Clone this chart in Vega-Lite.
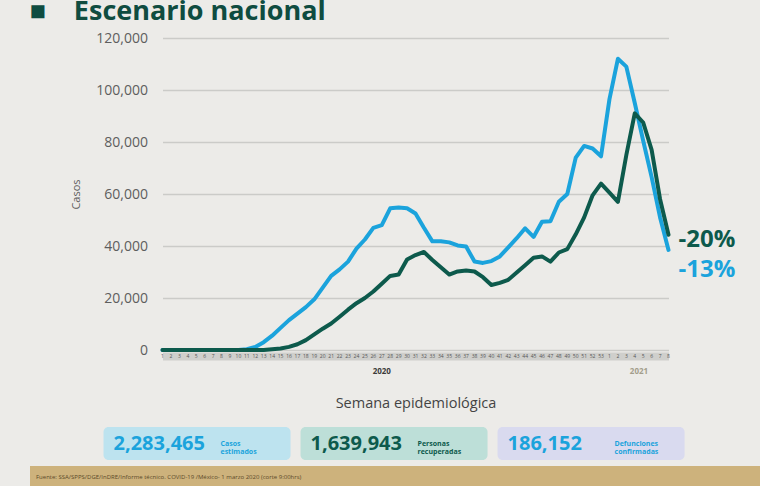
{
  "$schema": "https://vega.github.io/schema/vega-lite/v6.json",
  "background": "#ecebe8",
  "padding": {"left": 29, "top": -2, "right": 0, "bottom": 0},
  "autosize": {"type": "pad"},
  "config": {"font": "Open Sans", "view": {"stroke": null}},
  "datasets": {
    "casos": [
      {"w":1,"serie":"Estimados","casos":0},{"w":2,"serie":"Estimados","casos":0},{"w":3,"serie":"Estimados","casos":0},{"w":4,"serie":"Estimados","casos":0},{"w":5,"serie":"Estimados","casos":0},{"w":6,"serie":"Estimados","casos":0},{"w":7,"serie":"Estimados","casos":0},{"w":8,"serie":"Estimados","casos":0},{"w":9,"serie":"Estimados","casos":0},{"w":10,"serie":"Estimados","casos":0},
      {"w":11,"serie":"Estimados","casos":300},{"w":12,"serie":"Estimados","casos":1200},{"w":13,"serie":"Estimados","casos":3000},{"w":14,"serie":"Estimados","casos":5500},{"w":15,"serie":"Estimados","casos":8500},{"w":16,"serie":"Estimados","casos":11500},{"w":17,"serie":"Estimados","casos":14000},{"w":18,"serie":"Estimados","casos":16500},{"w":19,"serie":"Estimados","casos":19500},{"w":20,"serie":"Estimados","casos":24000},
      {"w":21,"serie":"Estimados","casos":28500},{"w":22,"serie":"Estimados","casos":31000},{"w":23,"serie":"Estimados","casos":34000},{"w":24,"serie":"Estimados","casos":39000},{"w":25,"serie":"Estimados","casos":42500},{"w":26,"serie":"Estimados","casos":47000},{"w":27,"serie":"Estimados","casos":48000},{"w":28,"serie":"Estimados","casos":54500},{"w":29,"serie":"Estimados","casos":54800},{"w":30,"serie":"Estimados","casos":54500},
      {"w":31,"serie":"Estimados","casos":52500},{"w":32,"serie":"Estimados","casos":47000},{"w":33,"serie":"Estimados","casos":41800},{"w":34,"serie":"Estimados","casos":41800},{"w":35,"serie":"Estimados","casos":41400},{"w":36,"serie":"Estimados","casos":40200},{"w":37,"serie":"Estimados","casos":39800},{"w":38,"serie":"Estimados","casos":34000},{"w":39,"serie":"Estimados","casos":33500},{"w":40,"serie":"Estimados","casos":34200},
      {"w":41,"serie":"Estimados","casos":36000},{"w":42,"serie":"Estimados","casos":39500},{"w":43,"serie":"Estimados","casos":43000},{"w":44,"serie":"Estimados","casos":46800},{"w":45,"serie":"Estimados","casos":43500},{"w":46,"serie":"Estimados","casos":49300},{"w":47,"serie":"Estimados","casos":49500},{"w":48,"serie":"Estimados","casos":57000},{"w":49,"serie":"Estimados","casos":60000},{"w":50,"serie":"Estimados","casos":74000},
      {"w":51,"serie":"Estimados","casos":78500},{"w":52,"serie":"Estimados","casos":77500},{"w":53,"serie":"Estimados","casos":74500},{"w":54,"serie":"Estimados","casos":96500},{"w":55,"serie":"Estimados","casos":112000},{"w":56,"serie":"Estimados","casos":109000},{"w":57,"serie":"Estimados","casos":95000},{"w":58,"serie":"Estimados","casos":80500},{"w":59,"serie":"Estimados","casos":66500},{"w":60,"serie":"Estimados","casos":51000},
      {"w":61,"serie":"Estimados","casos":38500},
      {"w":1,"serie":"Confirmados","casos":0},{"w":2,"serie":"Confirmados","casos":0},{"w":3,"serie":"Confirmados","casos":0},{"w":4,"serie":"Confirmados","casos":0},{"w":5,"serie":"Confirmados","casos":0},{"w":6,"serie":"Confirmados","casos":0},{"w":7,"serie":"Confirmados","casos":0},{"w":8,"serie":"Confirmados","casos":0},{"w":9,"serie":"Confirmados","casos":0},{"w":10,"serie":"Confirmados","casos":0},
      {"w":11,"serie":"Confirmados","casos":0},{"w":12,"serie":"Confirmados","casos":0},{"w":13,"serie":"Confirmados","casos":0},{"w":14,"serie":"Confirmados","casos":300},{"w":15,"serie":"Confirmados","casos":600},{"w":16,"serie":"Confirmados","casos":1200},{"w":17,"serie":"Confirmados","casos":2200},{"w":18,"serie":"Confirmados","casos":3800},{"w":19,"serie":"Confirmados","casos":6000},{"w":20,"serie":"Confirmados","casos":8200},
      {"w":21,"serie":"Confirmados","casos":10200},{"w":22,"serie":"Confirmados","casos":12800},{"w":23,"serie":"Confirmados","casos":15500},{"w":24,"serie":"Confirmados","casos":18000},{"w":25,"serie":"Confirmados","casos":20000},{"w":26,"serie":"Confirmados","casos":22500},{"w":27,"serie":"Confirmados","casos":25500},{"w":28,"serie":"Confirmados","casos":28500},{"w":29,"serie":"Confirmados","casos":29000},{"w":30,"serie":"Confirmados","casos":34800},
      {"w":31,"serie":"Confirmados","casos":36500},{"w":32,"serie":"Confirmados","casos":37700},{"w":33,"serie":"Confirmados","casos":34600},{"w":34,"serie":"Confirmados","casos":31800},{"w":35,"serie":"Confirmados","casos":29000},{"w":36,"serie":"Confirmados","casos":30200},{"w":37,"serie":"Confirmados","casos":30600},{"w":38,"serie":"Confirmados","casos":30200},{"w":39,"serie":"Confirmados","casos":28000},{"w":40,"serie":"Confirmados","casos":25000},
      {"w":41,"serie":"Confirmados","casos":25800},{"w":42,"serie":"Confirmados","casos":27000},{"w":43,"serie":"Confirmados","casos":29800},{"w":44,"serie":"Confirmados","casos":32600},{"w":45,"serie":"Confirmados","casos":35500},{"w":46,"serie":"Confirmados","casos":36000},{"w":47,"serie":"Confirmados","casos":34000},{"w":48,"serie":"Confirmados","casos":37500},{"w":49,"serie":"Confirmados","casos":38800},{"w":50,"serie":"Confirmados","casos":44500},
      {"w":51,"serie":"Confirmados","casos":51000},{"w":52,"serie":"Confirmados","casos":59500},{"w":53,"serie":"Confirmados","casos":64000},{"w":54,"serie":"Confirmados","casos":60500},{"w":55,"serie":"Confirmados","casos":57000},{"w":56,"serie":"Confirmados","casos":75000},{"w":57,"serie":"Confirmados","casos":91000},{"w":58,"serie":"Confirmados","casos":87500},{"w":59,"serie":"Confirmados","casos":77000},{"w":60,"serie":"Confirmados","casos":58000},
      {"w":61,"serie":"Confirmados","casos":44300}
    ],
    "semanas": [
      {"w":1,"semana":"1"},{"w":2,"semana":"2"},{"w":3,"semana":"3"},{"w":4,"semana":"4"},{"w":5,"semana":"5"},{"w":6,"semana":"6"},{"w":7,"semana":"7"},{"w":8,"semana":"8"},{"w":9,"semana":"9"},{"w":10,"semana":"10"},
      {"w":11,"semana":"11"},{"w":12,"semana":"12"},{"w":13,"semana":"13"},{"w":14,"semana":"14"},{"w":15,"semana":"15"},{"w":16,"semana":"16"},{"w":17,"semana":"17"},{"w":18,"semana":"18"},{"w":19,"semana":"19"},{"w":20,"semana":"20"},
      {"w":21,"semana":"21"},{"w":22,"semana":"22"},{"w":23,"semana":"23"},{"w":24,"semana":"24"},{"w":25,"semana":"25"},{"w":26,"semana":"26"},{"w":27,"semana":"27"},{"w":28,"semana":"28"},{"w":29,"semana":"29"},{"w":30,"semana":"30"},
      {"w":31,"semana":"31"},{"w":32,"semana":"32"},{"w":33,"semana":"33"},{"w":34,"semana":"34"},{"w":35,"semana":"35"},{"w":36,"semana":"36"},{"w":37,"semana":"37"},{"w":38,"semana":"38"},{"w":39,"semana":"39"},{"w":40,"semana":"40"},
      {"w":41,"semana":"41"},{"w":42,"semana":"42"},{"w":43,"semana":"43"},{"w":44,"semana":"44"},{"w":45,"semana":"45"},{"w":46,"semana":"46"},{"w":47,"semana":"47"},{"w":48,"semana":"48"},{"w":49,"semana":"49"},{"w":50,"semana":"50"},
      {"w":51,"semana":"51"},{"w":52,"semana":"52"},{"w":53,"semana":"53"},{"w":54,"semana":"1"},{"w":55,"semana":"2"},{"w":56,"semana":"3"},{"w":57,"semana":"4"},{"w":58,"semana":"5"},{"w":59,"semana":"6"},{"w":60,"semana":"7"},
      {"w":61,"semana":"8"}
    ],
    "cambio": [
      {"serie": "Confirmados", "cambio": "-20%"},
      {"serie": "Estimados", "cambio": "-13%"}
    ],
    "anios": [
      {"anio": "2020", "w": 27},
      {"anio": "2021", "w": 57.5}
    ],
    "totales": [
      {"indicador": "Casos estimados", "etiqueta": "Casos\nestimados", "total": 2283465},
      {"indicador": "Personas recuperadas", "etiqueta": "Personas\nrecuperadas", "total": 1639943},
      {"indicador": "Defunciones confirmadas", "etiqueta": "Defunciones\nconfirmadas", "total": 186152}
    ],
    "fuente": [
      {"fuente": "Fuente: SSA/SPPS/DGE/InDRE/Informe técnico. COVID-19 /México- 1 marzo 2020 (corte 9:00hrs)"}
    ],
    "vacio": []
  },
  "concat": [
    {
      "width": 506,
      "height": 312,
      "title": {
        "text": "■\u00a0\u00a0\u00a0\u00a0Escenario nacional",
        "anchor": "start",
        "frame": "group",
        "dx": -133,
        "offset": 5,
        "fontSize": 27,
        "fontWeight": "bold",
        "color": "#0f4c40"
      },
      "layer": [
        {
          "data": {"name": "casos"},
          "mark": {"type": "line", "strokeWidth": 4, "strokeJoin": "round", "strokeCap": "round"},
          "encoding": {
            "x": {
              "field": "w", "type": "quantitative",
              "scale": {"domain": [1, 61], "nice": false, "zero": false},
              "axis": {
                "values": [1, 61],
                "labels": false,
                "ticks": false,
                "grid": false,
                "domainColor": "#cfcfcc",
                "domainWidth": 8,
                "domainCap": "butt",
                "offset": 6,
                "title": "Semana epidemiológica",
                "titleFontSize": 14.5,
                "titleFontWeight": "normal",
                "titleColor": "#444444",
                "titlePadding": 40
              }
            },
            "y": {
              "field": "casos", "type": "quantitative",
              "scale": {"domain": [0, 120000], "nice": false},
              "axis": {
                "values": [0, 20000, 40000, 60000, 80000, 100000, 120000],
                "format": ",.0f",
                "labelFontSize": 14,
                "labelColor": "#5e5e5e",
                "labelPadding": 15,
                "ticks": false,
                "domain": false,
                "gridColor": "#cbcbc8",
                "gridWidth": 1.5,
                "title": "Casos",
                "titleFontSize": 11,
                "titleFontWeight": "normal",
                "titleColor": "#5e5e5e",
                "titlePadding": 14
              }
            },
            "color": {
              "field": "serie", "type": "nominal",
              "scale": {"domain": ["Estimados", "Confirmados"], "range": ["#1ba3dc", "#0d5a4c"]},
              "legend": null
            }
          }
        },
        {
          "data": {"name": "semanas"},
          "mark": {"type": "text", "align": "center", "baseline": "middle", "fontSize": 5, "color": "#555555"},
          "encoding": {
            "x": {"field": "w", "type": "quantitative"},
            "y": {"datum": -2300, "type": "quantitative"},
            "text": {"field": "semana"}
          }
        },
        {
          "data": {"name": "anios"},
          "mark": {"type": "text", "align": "center", "baseline": "middle", "fontSize": 8, "fontWeight": "bold"},
          "encoding": {
            "x": {"field": "w", "type": "quantitative"},
            "y": {"datum": -8500, "type": "quantitative"},
            "text": {"field": "anio"},
            "color": {"condition": {"test": "datum.anio == '2021'", "value": "#a39d8b"}, "value": "#3a3a3a"}
          }
        },
        {
          "data": {"name": "casos"},
          "transform": [
            {"filter": "datum.w == 61 && datum.serie == 'Confirmados'"},
            {"lookup": "serie", "from": {"data": {"name": "cambio"}, "key": "serie", "fields": ["cambio"]}}
          ],
          "mark": {"type": "text", "align": "left", "baseline": "middle", "dx": 10, "dy": 5, "fontSize": 24, "fontWeight": "bold"},
          "encoding": {
            "x": {"field": "w", "type": "quantitative"},
            "y": {"field": "casos", "type": "quantitative"},
            "text": {"field": "cambio"},
            "color": {"field": "serie", "type": "nominal", "legend": null}
          }
        },
        {
          "data": {"name": "casos"},
          "transform": [
            {"filter": "datum.w == 61 && datum.serie == 'Estimados'"},
            {"lookup": "serie", "from": {"data": {"name": "cambio"}, "key": "serie", "fields": ["cambio"]}}
          ],
          "mark": {"type": "text", "align": "left", "baseline": "middle", "dx": 10, "dy": 20, "fontSize": 24, "fontWeight": "bold"},
          "encoding": {
            "x": {"field": "w", "type": "quantitative"},
            "y": {"field": "casos", "type": "quantitative"},
            "text": {"field": "cambio"},
            "color": {"field": "serie", "type": "nominal", "legend": null}
          }
        }
      ]
    },
    {
      "width": 506,
      "height": 65,
      "data": {"name": "vacio"},
      "mark": "rect",
      "encoding": {}
    },
    {
      "width": 771,
      "height": 33,
      "data": {"name": "totales"},
      "encoding": {
        "x": {
          "field": "indicador", "type": "nominal", "sort": null,
          "scale": {"paddingInner": 0.0508, "paddingOuter": 0.482, "align": 0.387},
          "axis": null
        }
      },
      "layer": [
        {
          "mark": {"type": "rect", "cornerRadius": 5},
          "encoding": {
            "fill": {
              "field": "indicador", "type": "nominal", "legend": null,
              "scale": {"domain": ["Casos estimados", "Personas recuperadas", "Defunciones confirmadas"], "range": ["#bde3ef", "#bddfd8", "#d9daef"]}
            }
          }
        },
        {
          "mark": {"type": "text", "align": "left", "baseline": "middle", "dx": 10, "fontSize": 20, "fontWeight": "bold"},
          "encoding": {
            "x": {"field": "indicador", "type": "nominal", "sort": null, "bandPosition": 0},
            "text": {"field": "total", "type": "quantitative", "format": ","},
            "color": {
              "field": "indicador", "type": "nominal", "legend": null,
              "scale": {"domain": ["Casos estimados", "Personas recuperadas", "Defunciones confirmadas"], "range": ["#1592cf", "#0b5b50", "#5d62ae"]}
            }
          }
        },
        {
          "mark": {"type": "text", "align": "left", "baseline": "middle", "dx": 117, "fontSize": 7, "fontWeight": "bold", "lineBreak": "\n", "lineHeight": 8},
          "encoding": {
            "x": {"field": "indicador", "type": "nominal", "sort": null, "bandPosition": 0},
            "text": {"field": "etiqueta"},
            "color": {"field": "indicador", "type": "nominal", "legend": null}
          }
        }
      ]
    },
    {
      "width": 771,
      "height": 20,
      "data": {"name": "fuente"},
      "title": {
        "text": "Fuente: SSA/SPPS/DGE/InDRE/Informe técnico. COVID-19 /México- 1 marzo 2020 (corte 9:00hrs)",
        "anchor": "start",
        "frame": "group",
        "dx": 6,
        "offset": -14,
        "fontSize": 6,
        "fontWeight": "normal",
        "color": "#5b4a2a"
      },
      "mark": {"type": "rect", "color": "#cdb27c"},
      "encoding": {}
    }
  ],
  "columns": 1,
  "bounds": "flush",
  "center": true,
  "spacing": 6
}
